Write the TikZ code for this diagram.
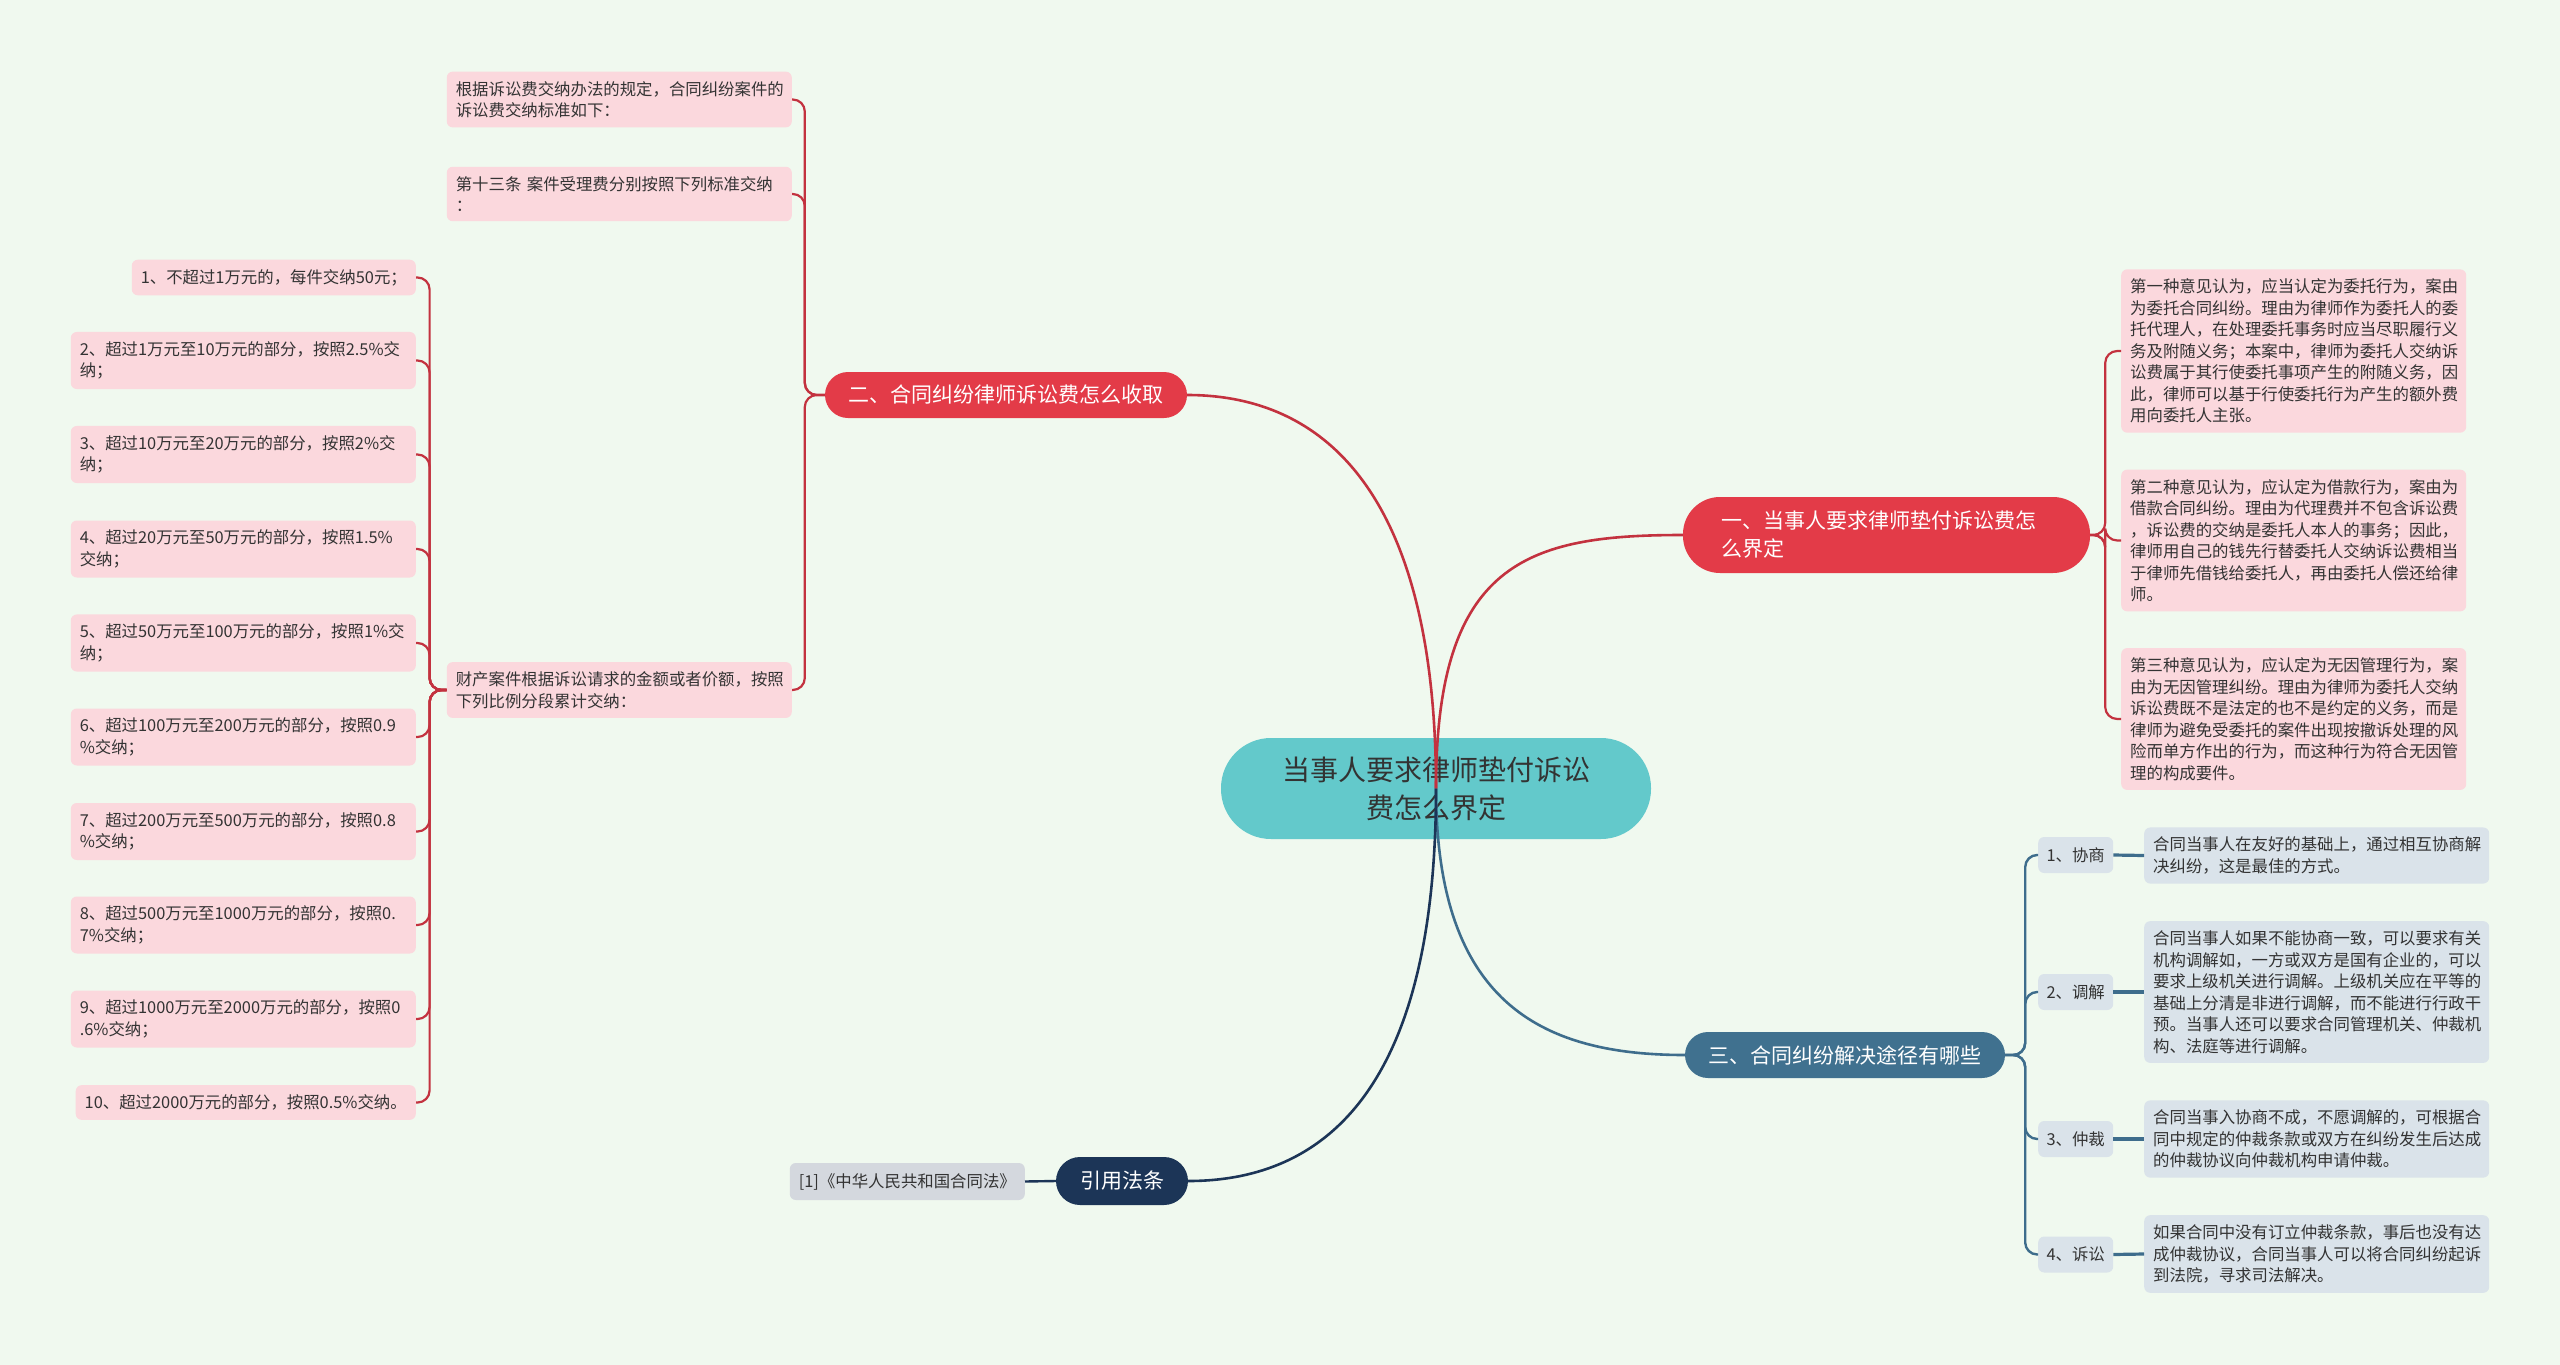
\documentclass[tikz,border=0pt]{standalone}
\usepackage{fontspec}
\setmainfont{Noto Sans CJK SC}
\usetikzlibrary{calc}
\definecolor{bgc}{HTML}{F0F9EF}
\definecolor{teal}{HTML}{63C9CB}
\definecolor{redb}{HTML}{E33B48}
\definecolor{redl}{HTML}{C3323F}
\definecolor{blueb}{HTML}{40718F}
\definecolor{bluel}{HTML}{3E6D8C}
\definecolor{navy}{HTML}{1C3557}
\definecolor{pinkf}{HTML}{FBD8DD}
\definecolor{bluef}{HTML}{DAE3EA}
\definecolor{greyf}{HTML}{D4D8DE}
\definecolor{txt}{HTML}{333333}
\newcommand\fleaf{\fontsize{16.4pt}{21.5pt}\selectfont}
\newcommand\fbranch{\fontsize{21pt}{28pt}\selectfont}
\newcommand\fcenter{\fontsize{28pt}{38pt}\selectfont}
\tikzset{
  leafbox/.style={rounded corners=6, inner xsep=9, inner ysep=9.5, font=\fleaf, text=txt, align=left},
  pinkbox/.style={leafbox, fill=pinkf},
  pinkwide/.style={pinkbox, text width=327},
  bluebox/.style={leafbox, fill=bluef},
  bluewide/.style={bluebox, text width=327},
  tagbox/.style={leafbox, fill=bluef, align=center, minimum width=75, minimum height=36, inner xsep=4, inner ysep=0},
  branchbox/.style={font=\fbranch, text=white, align=center, inner sep=0},
  redline/.style={draw=redl, line width=2.2, rounded corners=12},
  blueline/.style={draw=bluel, line width=2.4, rounded corners=12},
  mainred/.style={draw=redl, line width=2.6},
}
\begin{document}
\begin{tikzpicture}[x=1pt,y=-1pt]
\useasboundingbox (0,0) rectangle (2560,1365);
\fill[bgc] (0,0) rectangle (2560,1365);

% central
\node[fill=teal, rounded corners=50, minimum width=430, minimum height=101, inner sep=0, font=\fcenter, text=txt, align=center] (ctr) at (1436,788.5) {当事人要求律师垫付诉讼\\费怎么界定};

% branches
\node[branchbox, fill=redb, rounded corners=37, minimum width=407, minimum height=76, text width=330, align=left, inner xsep=38.5] (b1) at (1886.5,535) {一、当事人要求律师垫付诉讼费怎\\么界定};
\node[branchbox, fill=redb, rounded corners=23, minimum width=362, minimum height=46] (b2) at (1006,395) {二、合同纠纷律师诉讼费怎么收取};
\node[branchbox, fill=blueb, rounded corners=23, minimum width=320, minimum height=46] (b3) at (1845,1055) {三、合同纠纷解决途径有哪些};
\node[branchbox, fill=navy, rounded corners=24, minimum width=132, minimum height=48] (b4) at (1122,1181) {引用法条};

% branch 4 leaf
\node[leafbox, fill=greyf, anchor=east, minimum height=37, inner ysep=0] (ref) at (1025,1181.5) {[1]《中华人民共和国合同法》};

% branch 2 leaves
\node[pinkwide, anchor=east] (l1) at (792,99.5) {根据诉讼费交纳办法的规定，合同纠纷案件的\\诉讼费交纳标准如下：};
\node[pinkwide, anchor=east] (l2) at (792,194) {第十三条 案件受理费分别按照下列标准交纳\\：};
\node[pinkwide, anchor=east] (l3) at (792,690) {财产案件根据诉讼请求的金额或者价额，按照\\下列比例分段累计交纳：};

\node[pinkbox, anchor=east] (i1) at (416,277.5) {1、不超过1万元的，每件交纳50元；};
\node[pinkwide, anchor=east] (i2) at (416,360.5) {2、超过1万元至10万元的部分，按照2.5\%交\\纳；};
\node[pinkwide, anchor=east] (i3) at (416,454.5) {3、超过10万元至20万元的部分，按照2\%交\\纳；};
\node[pinkwide, anchor=east] (i4) at (416,549) {4、超过20万元至50万元的部分，按照1.5\%\\交纳；};
\node[pinkwide, anchor=east] (i5) at (416,643) {5、超过50万元至100万元的部分，按照1\%交\\纳；};
\node[pinkwide, anchor=east] (i6) at (416,737) {6、超过100万元至200万元的部分，按照0.9\\\%交纳；};
\node[pinkwide, anchor=east] (i7) at (416,831.5) {7、超过200万元至500万元的部分，按照0.8\\\%交纳；};
\node[pinkwide, anchor=east] (i8) at (416,925) {8、超过500万元至1000万元的部分，按照0.\\7\%交纳；};
\node[pinkwide, anchor=east] (i9) at (416,1019) {9、超过1000万元至2000万元的部分，按照0\\.6\%交纳；};
\node[pinkbox, anchor=east] (i10) at (416,1102.5) {10、超过2000万元的部分，按照0.5\%交纳。};

% branch 1 leaves
\node[pinkwide, anchor=west] (r1) at (2121,351) {第一种意见认为，应当认定为委托行为，案由\\为委托合同纠纷。理由为律师作为委托人的委\\托代理人，在处理委托事务时应当尽职履行义\\务及附随义务；本案中，律师为委托人交纳诉\\讼费属于其行使委托事项产生的附随义务，因\\此，律师可以基于行使委托行为产生的额外费\\用向委托人主张。};
\node[pinkwide, anchor=west] (r2) at (2121,540.5) {第二种意见认为，应认定为借款行为，案由为\\借款合同纠纷。理由为代理费并不包含诉讼费\\，诉讼费的交纳是委托人本人的事务；因此，\\律师用自己的钱先行替委托人交纳诉讼费相当\\于律师先借钱给委托人，再由委托人偿还给律\\师。};
\node[pinkwide, anchor=west] (r3) at (2121,719) {第三种意见认为，应认定为无因管理行为，案\\由为无因管理纠纷。理由为律师为委托人交纳\\诉讼费既不是法定的也不是约定的义务，而是\\律师为避免受委托的案件出现按撤诉处理的风\\险而单方作出的行为，而这种行为符合无因管\\理的构成要件。};

% branch 3 children
\node[tagbox, anchor=west] (c1) at (2038,855) {1、协商};
\node[tagbox, anchor=west] (c2) at (2038,992) {2、调解};
\node[tagbox, anchor=west] (c3) at (2038,1139) {3、仲裁};
\node[tagbox, anchor=west] (c4) at (2038,1254.5) {4、诉讼};
\node[bluewide, anchor=west] (d1) at (2144,855.5) {合同当事人在友好的基础上，通过相互协商解\\决纠纷，这是最佳的方式。};
\node[bluewide, anchor=west] (d2) at (2144,992) {合同当事人如果不能协商一致，可以要求有关\\机构调解如，一方或双方是国有企业的，可以\\要求上级机关进行调解。上级机关应在平等的\\基础上分清是非进行调解，而不能进行行政干\\预。当事人还可以要求合同管理机关、仲裁机\\构、法庭等进行调解。};
\node[bluewide, anchor=west] (d3) at (2144,1139) {合同当事入协商不成，不愿调解的，可根据合\\同中规定的仲裁条款或双方在纠纷发生后达成\\的仲裁协议向仲裁机构申请仲裁。};
\node[bluewide, anchor=west] (d4) at (2144,1254) {如果合同中没有订立仲裁条款，事后也没有达\\成仲裁协议，合同当事人可以将合同纠纷起诉\\到法院，寻求司法解决。};

% main connectors
\draw[mainred] (ctr.center) .. controls +(0,-287) and +(143,0) .. (b2.east);
\draw[mainred] (ctr.center) .. controls +(0,-227) and +(-155,0) .. (b1.west);
\draw[draw=bluel, line width=2.6] (ctr.center) .. controls +(0,213) and +(-145,0) .. (b3.west);
\draw[draw=navy, line width=2.6] (ctr.center) .. controls +(0,293) and +(142,0) .. (b4.east);

% branch 4
\draw[draw=navy, line width=2.4] (b4.west) -- (ref.east);

% branch 2 subtree
\foreach \n in {l1,l2,l3}
  \draw[redline] (b2.west) -- ($(b2.west)+(-20,0)$) |- (\n.east);
\foreach \n in {i1,i2,i3,i4,i5,i6,i7,i8,i9,i10}
  \draw[redline] (l3.west) -- ($(l3.west)+(-17,0)$) |- (\n.east);

% branch 1 subtree
\foreach \n in {r1,r2,r3}
  \draw[redline] (b1.east) -- ($(b1.east)+(15,0)$) |- (\n.west);

% branch 3 subtree
\foreach \n in {c1,c2,c3,c4}
  \draw[blueline] (b3.east) -- ($(b3.east)+(20,0)$) |- (\n.west);
\draw[draw=bluel, line width=3.2] (c1.east) -- (d1.west);
\draw[draw=bluel, line width=3.2] (c2.east) -- (d2.west);
\draw[draw=bluel, line width=3.2] (c3.east) -- (d3.west);
\draw[draw=bluel, line width=3.2] (c4.east) -- (d4.west);
\end{tikzpicture}
\end{document}
